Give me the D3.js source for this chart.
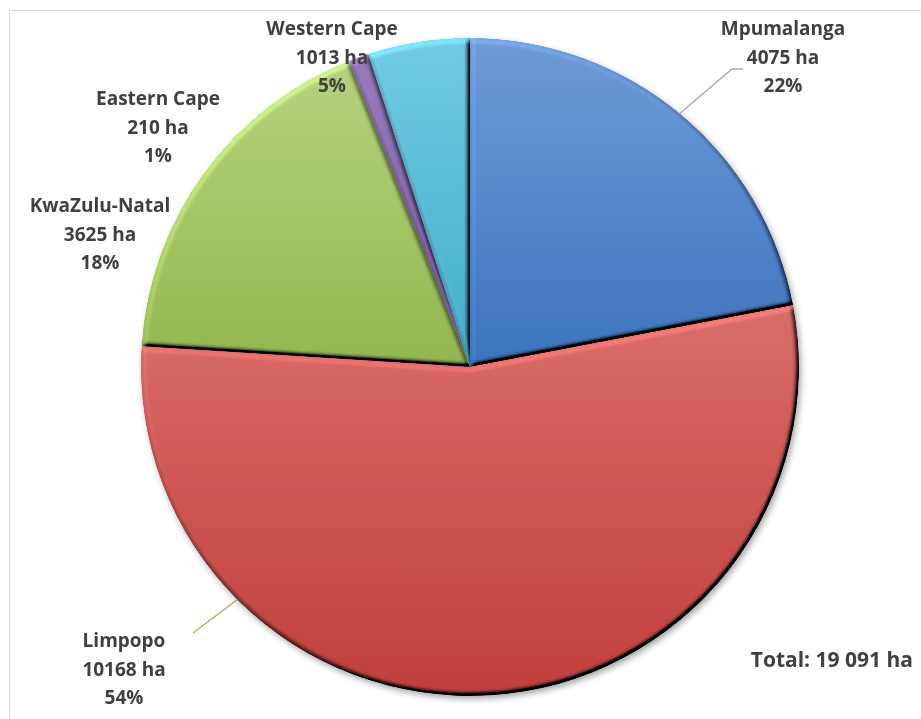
<!DOCTYPE html>
<html>
<head>
<meta charset="utf-8">
<script src="https://cdn.jsdelivr.net/npm/d3@7/dist/d3.min.js"></script>
<style>
  body { margin: 0; background: #fff; }
  svg { display: block; }
  text { font-family: "Open Sans", Lato, sans-serif; font-weight: bold; fill: #404040; }
</style>
</head>
<body>
<div id="chart"></div>
<script>
// data
var regions = ["Mpumalanga", "Limpopo", "KwaZulu-Natal", "Eastern Cape", "Western Cape"];
var hectares = [4075, 10168, 3625, 210, 1013];
var shares = [22, 54, 18, 1, 5];   // the slices follow the printed percentages
var totalLabel = "Total: 19 091 ha";

// colours: [top, bottom] of each slice gradient
var colours = [
  ["#6f9bd7", "#3c74be"],
  ["#d96d6a", "#c13f3c"],
  ["#b7d27e", "#93b74f"],
  ["#977cbd", "#7657a0"],
  ["#70cbe2", "#43adc8"]
];

// hand placed label anchors (first baseline) and leader lines, as in the original
var labelPos = [
  { x: 783, y: 35, lead: { angle: null, pts: [[732, 69], [743, 69]] } },
  { x: 124, y: 647, lead: { angle: 225, pts: [[193, 633]] } },
  { x: 100, y: 212, lead: null },
  { x: 158, y: 105, lead: null },
  { x: 332, y: 35, lead: null }
];

var width = 921, height = 719;
var cx = 470, cy = 367, radius = 329;
var lineGap = 28.5;
var fontSize = 19;

var svg = d3.select("#chart").append("svg")
    .attr("width", width)
    .attr("height", height);

var defs = svg.append("defs");

// soft shadow under the pie
var shadow = defs.append("filter").attr("id", "shadow")
    .attr("x", "-10%").attr("y", "-10%").attr("width", "120%").attr("height", "120%");
shadow.append("feDropShadow")
    .attr("dx", 2).attr("dy", 3).attr("stdDeviation", 3)
    .attr("flood-color", "#000").attr("flood-opacity", 0.35);

// bevel: diffuse light from the top left, neutral on the flat part
var bevel = defs.append("filter").attr("id", "bevel")
    .attr("x", "-5%").attr("y", "-5%").attr("width", "110%").attr("height", "110%");
bevel.append("feGaussianBlur")
    .attr("in", "SourceAlpha").attr("stdDeviation", 2.5).attr("result", "blur");
bevel.append("feDiffuseLighting")
    .attr("in", "blur").attr("surfaceScale", 6).attr("diffuseConstant", 1)
    .attr("lighting-color", "#fff").attr("result", "light")
  .append("feDistantLight")
    .attr("azimuth", 235).attr("elevation", 45);
bevel.append("feComposite")
    .attr("in", "SourceGraphic").attr("in2", "light")
    .attr("operator", "arithmetic")
    .attr("k1", 1.414).attr("k2", 0).attr("k3", 0).attr("k4", 0)
    .attr("result", "lit");
bevel.append("feComposite")
    .attr("in", "lit").attr("in2", "SourceAlpha").attr("operator", "in");

colours.forEach(function(c, i) {
  var g = defs.append("linearGradient").attr("id", "grad" + i)
      .attr("x1", 0).attr("y1", 0).attr("x2", 0).attr("y2", 1);
  g.append("stop").attr("offset", "0%").attr("stop-color", c[0]);
  g.append("stop").attr("offset", "100%").attr("stop-color", c[1]);
});

// chart border (right and bottom edges fall outside the picture)
svg.append("rect")
    .attr("x", 9.5).attr("y", 10.5)
    .attr("width", width + 20).attr("height", height + 20)
    .attr("fill", "none").attr("stroke", "#d9d9d9");

var data = regions.map(function(r, i) {
  return { region: r, ha: hectares[i], share: shares[i], index: i };
});

var pie = d3.pie().sort(null).value(function(d) { return d.share; });
var arc = d3.arc().innerRadius(0).outerRadius(radius);
var arcs = pie(data);

var g = svg.append("g")
    .attr("transform", "translate(" + cx + "," + cy + ")");

var slices = g.append("g").attr("filter", "url(#shadow)");
slices.selectAll("path")
  .data(arcs)
  .enter().append("path")
    .attr("d", arc)
    .attr("fill", function(d) { return "url(#grad" + d.data.index + ")"; })
    .attr("filter", "url(#bevel)");

// leader lines
var lineCol = ["#a6a6a6", "#9bbb59"];
arcs.forEach(function(d, i) {
  var lp = labelPos[i];
  if (!lp.lead) return;
  var ang = lp.lead.angle === null ? (d.startAngle + d.endAngle) / 2 : lp.lead.angle * Math.PI / 180;
  var p0 = d3.pointRadial(ang, radius);
  var pts = [[p0[0] + cx, p0[1] + cy]].concat(lp.lead.pts);
  svg.append("path")
      .attr("d", d3.line()(pts))
      .attr("fill", "none")
      .attr("stroke", i === 0 ? lineCol[0] : lineCol[1])
      .attr("stroke-width", 1.3);
});

// labels
var labels = svg.selectAll("text.lbl")
  .data(arcs)
  .enter().append("text")
    .attr("class", "lbl")
    .attr("text-anchor", "middle")
    .attr("font-size", fontSize)
    .attr("x", function(d) { return labelPos[d.data.index].x; })
    .attr("y", function(d) { return labelPos[d.data.index].y; });

labels.each(function(d) {
  var t = d3.select(this);
  var x = labelPos[d.data.index].x;
  [d.data.region, d.data.ha + " ha", d.data.share + "%"].forEach(function(s, k) {
    t.append("tspan").attr("x", x).attr("dy", k === 0 ? 0 : lineGap).text(s);
  });
});

svg.append("text")
    .attr("x", 913).attr("y", 667)
    .attr("text-anchor", "end")
    .attr("font-size", 21)
    .text(totalLabel);
</script>
</body>
</html>
